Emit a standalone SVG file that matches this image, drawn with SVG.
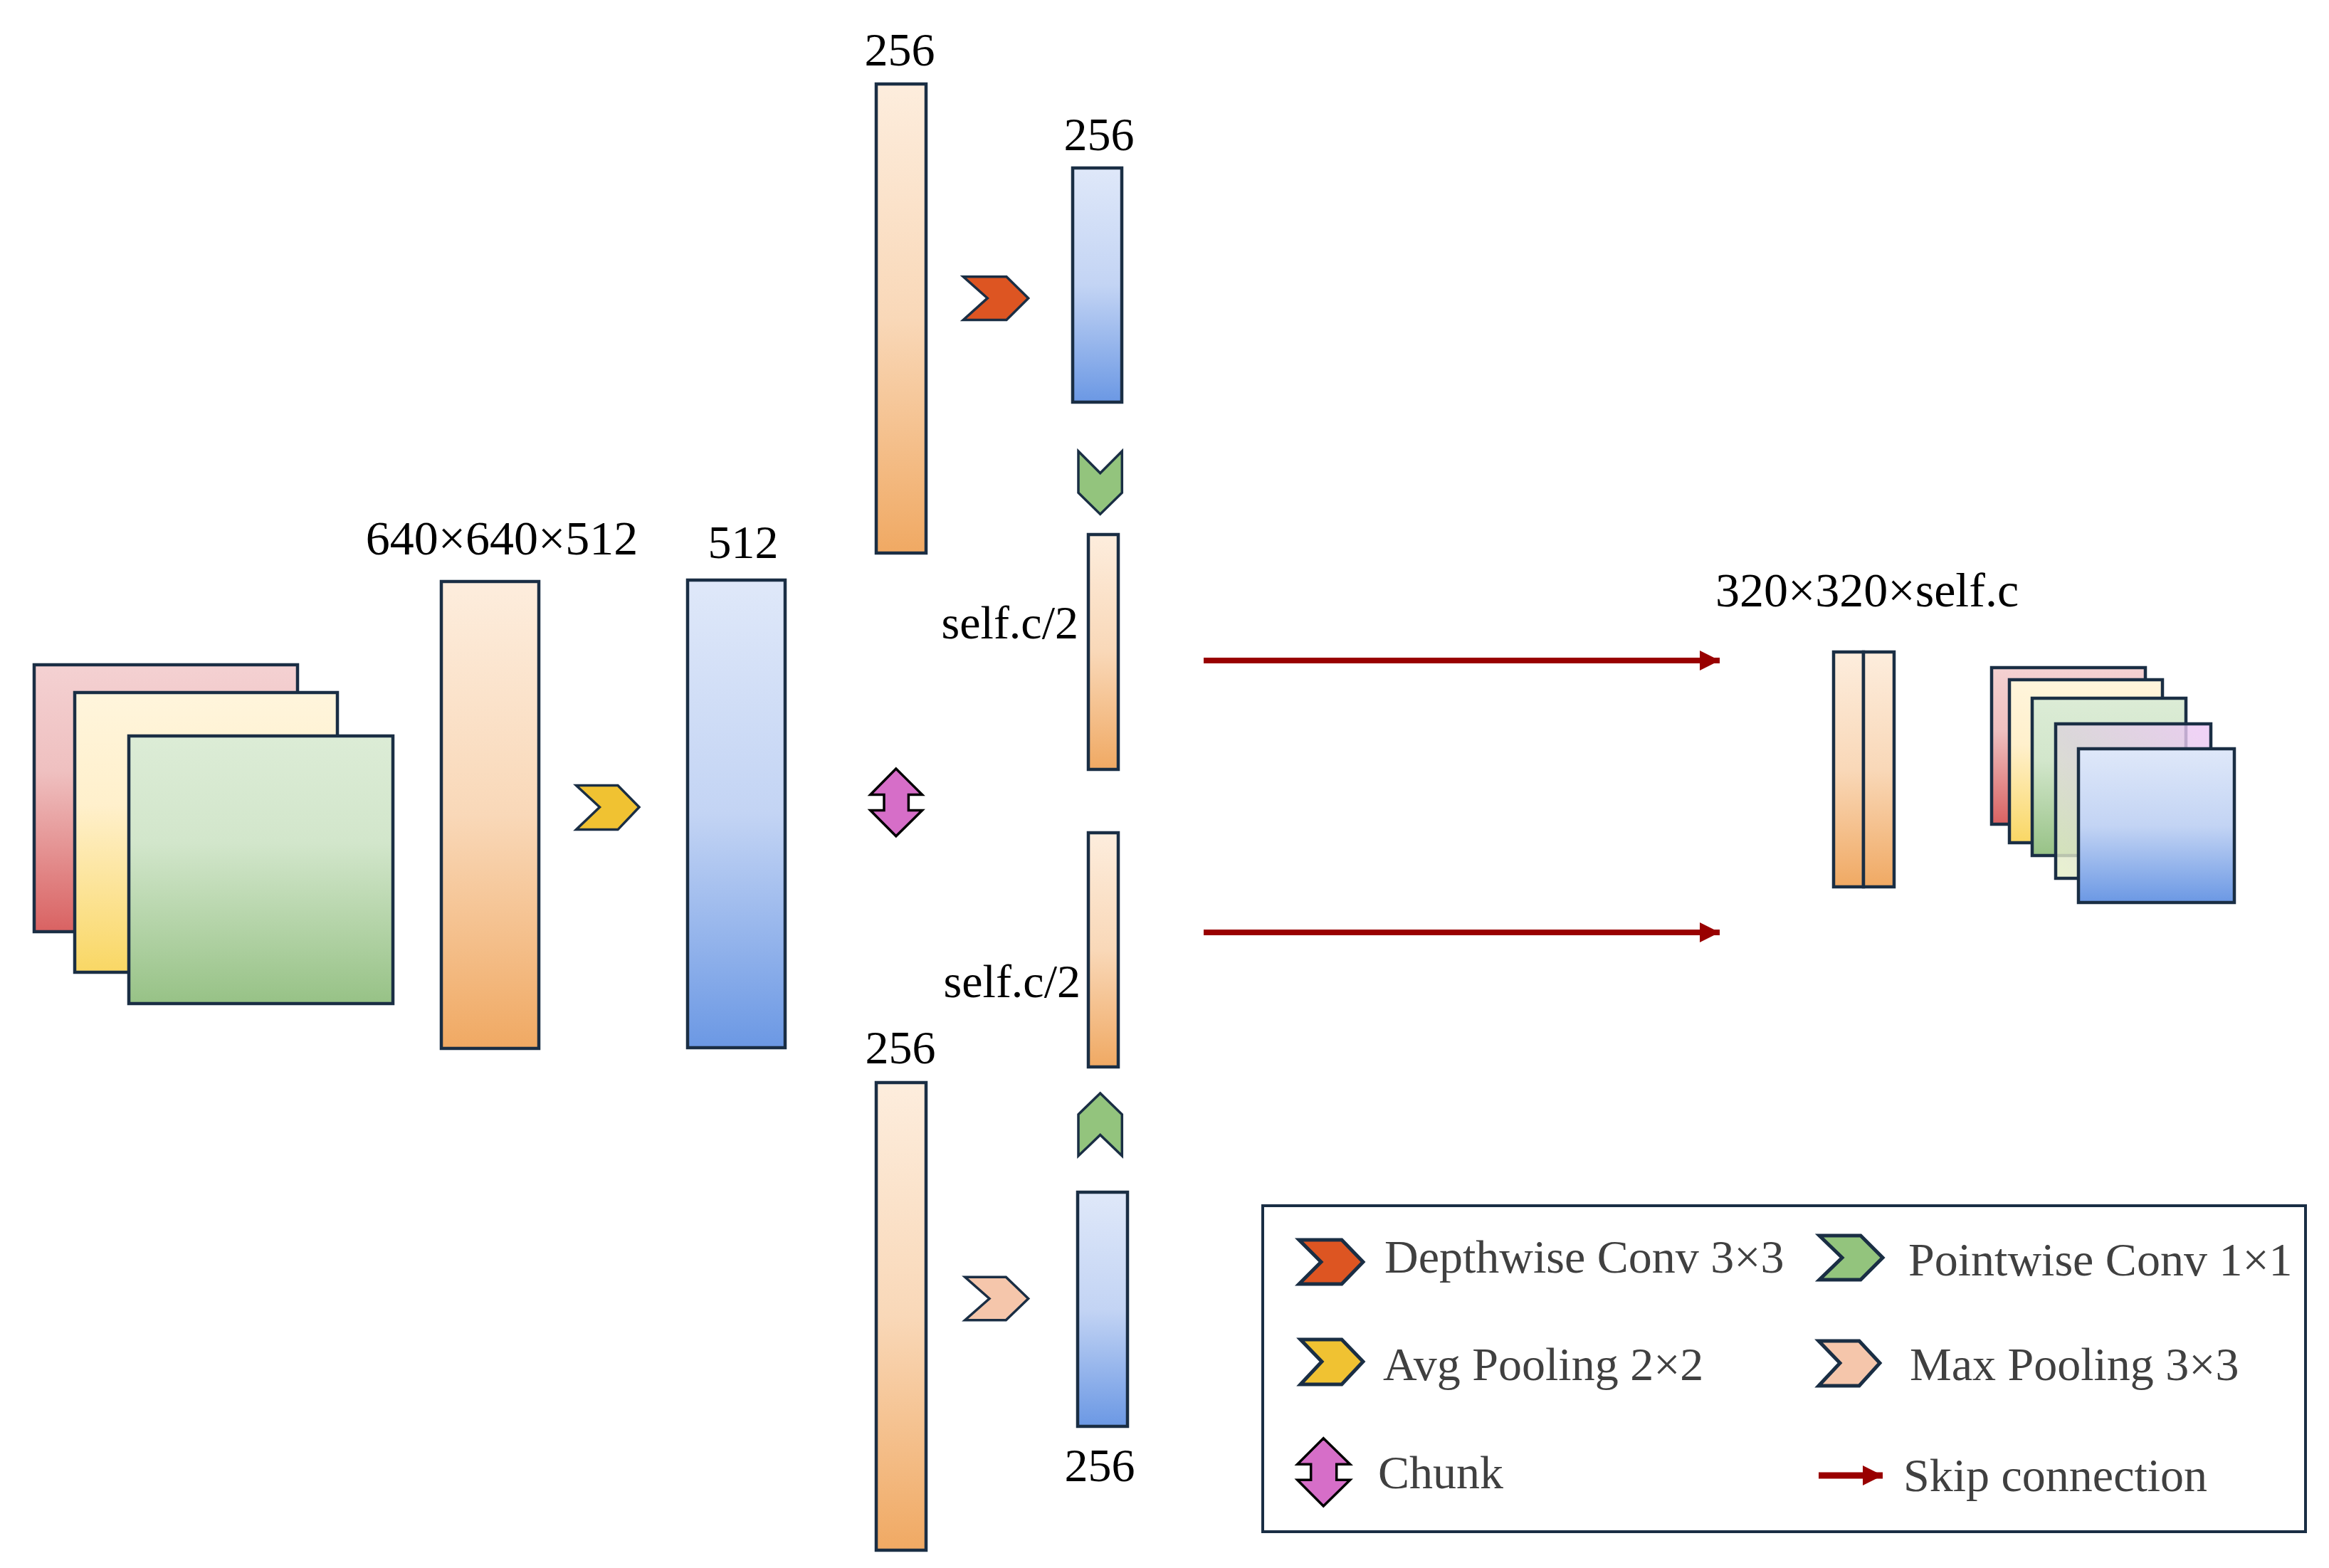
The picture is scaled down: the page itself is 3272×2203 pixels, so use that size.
<svg xmlns="http://www.w3.org/2000/svg" width="3272" height="2203" viewBox="0 0 3272 2203">
<defs>
<linearGradient id="gOr" x1="0" y1="0" x2="0" y2="1"><stop offset="0" stop-color="#fdeddd"/><stop offset="0.5" stop-color="#f9d8b8"/><stop offset="1" stop-color="#f0a963"/></linearGradient>
<linearGradient id="gBl" x1="0" y1="0" x2="0" y2="1"><stop offset="0" stop-color="#dfe8f9"/><stop offset="0.5" stop-color="#c3d4f4"/><stop offset="1" stop-color="#6b98e4"/></linearGradient>
<linearGradient id="gRd" x1="0" y1="0" x2="0" y2="1"><stop offset="0" stop-color="#f4d1d2"/><stop offset="0.4" stop-color="#efc0c0"/><stop offset="1" stop-color="#d96262"/></linearGradient>
<linearGradient id="gYl" x1="0" y1="0" x2="0" y2="1"><stop offset="0" stop-color="#fff5dc"/><stop offset="0.4" stop-color="#fff0cc"/><stop offset="1" stop-color="#f9d764"/></linearGradient>
<linearGradient id="gGr" x1="0" y1="0" x2="0" y2="1"><stop offset="0" stop-color="#dcecd6"/><stop offset="0.4" stop-color="#d2e6cb"/><stop offset="1" stop-color="#97c286"/></linearGradient>
<linearGradient id="gPu" x1="0" y1="1" x2="1" y2="0"><stop offset="0" stop-color="#e3efc3"/><stop offset="0.5" stop-color="#dcd3dc"/><stop offset="1" stop-color="#eec6f7"/></linearGradient>
<marker id="ah" markerUnits="userSpaceOnUse" markerWidth="30" markerHeight="30" refX="28" refY="15" orient="auto" viewBox="0 0 30 30"><path d="M0,1 L28,15 L0,29 Z" fill="#990000"/></marker>
<style>
.box{stroke:#1a2e44;stroke-width:4.5}
.chev{stroke:#1a2e44;stroke-width:3.5;stroke-linejoin:miter}
.lchev{stroke:#1a2e44;stroke-width:5;stroke-linejoin:miter}
.chunk{fill:#d66ec8;stroke:#000;stroke-width:3.5}
.lbl{font-family:"Liberation Serif","Times New Roman",serif;font-size:66px;fill:#000}
.big{font-size:68px}
.leg{font-family:"Liberation Serif","Times New Roman",serif;font-size:66px;fill:#404040}
.skip{stroke:#990000;stroke-width:8;fill:none}
</style>
</defs>
<rect width="3272" height="2203" fill="#fff"/>

<g id="input-stack">
<rect class="box" x="48" y="934" width="370" height="375" fill="url(#gRd)"/>
<rect class="box" x="105" y="973" width="369" height="393" fill="url(#gYl)"/>
<rect class="box" x="181" y="1034" width="371" height="376" fill="url(#gGr)"/>
</g>

<g id="feat-640">
<rect class="box" x="620" y="817" width="137" height="656" fill="url(#gOr)"/>
<text class="lbl big" x="705" y="779" text-anchor="middle">640×640×512</text>
</g>

<g id="avgpool">
<path class="chev" fill="#f0c232" d="M809.5,1103.6 L868,1103.6 L898,1134 L868,1165.6 L809.5,1165.6 L842.5,1134 Z"/>
</g>

<g id="feat-512">
<rect class="box" x="966" y="815" width="137" height="657" fill="url(#gBl)"/>
<text class="lbl" x="1044" y="784" text-anchor="middle">512</text>
</g>

<g id="chunk">
<path class="chunk" d="M1258.8,1080 L1295.6,1116.5 L1276.4,1116.5 L1276.4,1138.6 L1295.6,1138.6 L1258.8,1174.7 L1222.8,1138.6 L1242,1138.6 L1242,1116.5 L1222.8,1116.5 Z"/>
</g>

<g id="top-256">
<rect class="box" x="1231" y="118" width="70" height="659" fill="url(#gOr)"/>
<text class="lbl" x="1264" y="92" text-anchor="middle">256</text>
</g>

<g id="dwconv">
<path class="chev" fill="#dd5522" d="M1353.3,388.8 L1414,388.8 L1444.7,418.9 L1414,449.5 L1353.3,449.5 L1387.3,418.9 Z"/>
</g>

<g id="top-blue-256">
<rect class="box" x="1507" y="236" width="69" height="329" fill="url(#gBl)"/>
<text class="lbl" x="1544" y="211" text-anchor="middle">256</text>
</g>

<g id="pwconv-down">
<path class="chev" fill="#93c47d" d="M1515,634 L1545.7,664.8 L1576.3,634 L1576.3,692.3 L1545.7,722.4 L1515,692.3 Z"/>
</g>

<g id="half-1">
<rect class="box" x="1529" y="751" width="42" height="330" fill="url(#gOr)"/>
<text class="lbl" x="1515" y="897" text-anchor="end">self.c/2</text>
</g>

<g id="half-2">
<rect class="box" x="1529" y="1170" width="42" height="329" fill="url(#gOr)"/>
<text class="lbl" x="1518" y="1401" text-anchor="end">self.c/2</text>
</g>

<g id="pwconv-up">
<path class="chev" fill="#93c47d" d="M1515,1624 L1515,1565.7 L1545.7,1536 L1576.3,1565.7 L1576.3,1624 L1545.7,1594.5 Z"/>
</g>

<g id="bottom-256">
<rect class="box" x="1231" y="1521" width="70" height="657" fill="url(#gOr)"/>
<text class="lbl" x="1265" y="1494" text-anchor="middle">256</text>
</g>

<g id="maxpool">
<path class="chev" fill="#f5c6ab" d="M1355.7,1794.3 L1413.3,1794.3 L1444.7,1824.5 L1413.3,1854.8 L1355.7,1854.8 L1390,1824.5 Z"/>
</g>

<g id="bottom-blue-256">
<rect class="box" x="1514" y="1675" width="70" height="329" fill="url(#gBl)"/>
<text class="lbl" x="1545" y="2081" text-anchor="middle">256</text>
</g>

<g id="concat">
<rect class="box" x="2576" y="916" width="42" height="330" fill="url(#gOr)"/>
<rect class="box" x="2618" y="916" width="43" height="330" fill="url(#gOr)"/>
<text class="lbl big" x="2410" y="852">320×320×self.c</text>
</g>

<g id="output-stack">
<rect class="box" x="2798" y="938" width="216" height="220" fill="url(#gRd)"/>
<rect class="box" x="2823" y="955" width="215" height="229" fill="url(#gYl)"/>
<rect class="box" x="2855" y="981" width="216" height="221" fill="url(#gGr)"/>
<rect class="box" x="2888" y="1017" width="218" height="217" fill="url(#gPu)" fill-opacity="0.8"/>
<rect class="box" x="2920" y="1052" width="219" height="216" fill="url(#gBl)"/>
</g>

<g id="connectors">
<line class="skip" x1="1691" y1="928" x2="2416" y2="928" marker-end="url(#ah)"/>
<line class="skip" x1="1691" y1="1310" x2="2416" y2="1310" marker-end="url(#ah)"/>
</g>

<g id="legend">
<rect x="1774" y="1694" width="1465" height="458" fill="#fff" stroke="#1a2e44" stroke-width="4"/>
<path class="lchev" fill="#dd5522" d="M1825,1742 L1885,1742 L1915,1773 L1885,1804 L1825,1804 L1856,1773 Z"/>
<text class="leg" x="1945" y="1788">Depthwise Conv 3×3</text>
<path class="lchev" fill="#93c47d" d="M2556,1736 L2614,1736 L2645,1767 L2614,1798 L2556,1798 L2588,1767 Z"/>
<text class="leg" x="2681" y="1792">Pointwise Conv 1×1</text>
<path class="lchev" fill="#f0c232" d="M1827,1882 L1885,1882 L1915,1913 L1885,1945 L1827,1945 L1857,1913 Z"/>
<text class="leg" x="1943" y="1939">Avg Pooling 2×2</text>
<path class="lchev" fill="#f5c6ab" d="M2555,1884 L2612,1884 L2641,1915 L2612,1947 L2555,1947 L2585,1915 Z"/>
<text class="leg" x="2683" y="1939">Max Pooling 3×3</text>
<path class="chunk" d="M1859.3,2020.7 L1896.7,2057.3 L1877.7,2057.3 L1877.7,2079.3 L1896.7,2079.3 L1859.3,2116 L1822.7,2079.3 L1841.7,2079.3 L1841.7,2057.3 L1822.7,2057.3 Z"/>
<text class="leg" x="1936" y="2091">Chunk</text>
<line x1="2555" y1="2073" x2="2645" y2="2073" stroke="#990000" stroke-width="9" marker-end="url(#ah)"/>
<text class="leg" x="2674" y="2095">Skip connection</text>
</g>
</svg>
